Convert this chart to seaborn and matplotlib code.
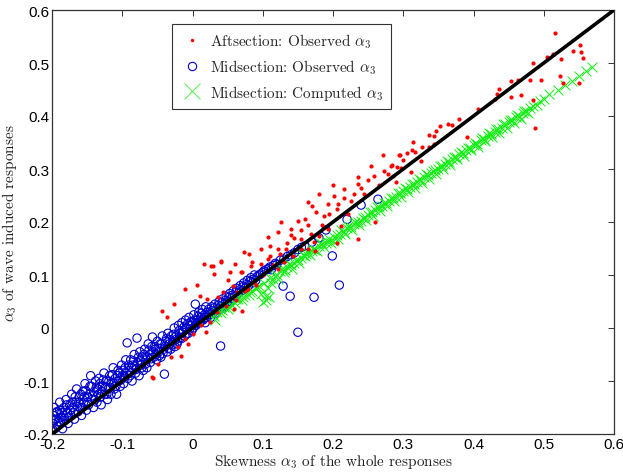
import matplotlib
matplotlib.use("Agg")
import matplotlib.pyplot as plt
from matplotlib.lines import Line2D
import seaborn as sns
import pandas as pd

# ---------------- data ----------------
# Midsection: observed alpha_3
blue_x = [-0.200,-0.199,-0.198,-0.197,-0.196,-0.195,-0.193,-0.192,-0.190,-0.189,-0.188,-0.186,-0.185,-0.183,-0.182,-0.180,
          -0.178,-0.177,-0.175,-0.173,-0.172,-0.170,-0.168,-0.166,-0.165,-0.163,-0.161,-0.160,-0.158,-0.156,-0.155,-0.153,
          -0.151,-0.150,-0.148,-0.146,-0.145,-0.143,-0.141,-0.140,-0.138,-0.136,-0.135,-0.133,-0.131,-0.130,-0.128,-0.126,
          -0.125,-0.123,-0.121,-0.120,-0.118,-0.116,-0.115,-0.113,-0.111,-0.110,-0.108,-0.106,-0.105,-0.103,-0.101,-0.100,
          -0.098,-0.096,-0.095,-0.093,-0.092,-0.090,-0.088,-0.086,-0.085,-0.083,-0.081,-0.079,-0.078,-0.076,-0.075,-0.073,
          -0.071,-0.070,-0.068,-0.066,-0.065,-0.063,-0.061,-0.060,-0.058,-0.057,-0.055,-0.053,-0.051,-0.050,-0.048,-0.046,
          -0.045,-0.043,-0.041,-0.040,-0.038,-0.036,-0.035,-0.033,-0.031,-0.030,-0.028,-0.026,-0.025,-0.023,-0.021,-0.020,
          -0.018,-0.016,-0.015,-0.013,-0.011,-0.010,-0.008,-0.006,-0.005,-0.003,-0.001,0.000,0.002,0.004,0.005,0.007,
          0.009,0.010,0.012,0.014,0.015,0.017,0.019,0.020,0.022,0.025,0.027,0.030,0.032,0.035,0.038,0.040,0.040,0.043,
          0.045,0.048,0.050,0.053,0.055,0.058,0.060,0.063,0.065,0.068,0.070,0.073,0.075,0.078,0.080,0.083,0.085,0.088,
          0.090,0.095,0.100,0.105,0.110,0.115,0.120,0.125,0.129,0.130,0.139,0.140,0.150,0.150,0.160,0.173,0.180,0.199,
          0.209,0.220,0.264,
          -0.199,-0.197,-0.194,-0.191,-0.189,-0.187,-0.184,-0.181,-0.179,-0.176,-0.174,-0.171,-0.169,-0.167,-0.164,-0.162,
          -0.159,-0.157,-0.154,-0.152,-0.149,-0.147,-0.144,-0.142,-0.139,-0.137,-0.134,-0.132,-0.129,-0.127,-0.124,-0.122,
          -0.119,-0.117,-0.114,-0.112,-0.109,-0.107,-0.104,-0.102,-0.099,-0.097,-0.094,-0.091,-0.089,-0.087,-0.084,-0.082,
          -0.080,-0.077,-0.074,-0.072,-0.069,-0.067,-0.064,-0.062,-0.059,-0.056,-0.054,-0.052,-0.049,-0.047,-0.044,-0.042,
          -0.039,-0.037,-0.034,-0.032,-0.029,-0.027,-0.024,-0.022,-0.019,-0.017,-0.014,-0.012,-0.009,-0.007,-0.004,-0.002,
          0.001,0.003,0.006,0.008,0.011,0.013,0.016,0.018,0.021,0.023,0.026,0.028,0.031,0.033,0.036,0.039,
          0.042,0.044,0.047,0.049,0.052,0.054,0.057,0.062,0.067,0.072,0.077,0.082,0.087,0.092,0.097,0.102,
          0.108,0.112,0.118,0.135,0.145,0.155,0.170,0.190,0.240]
blue_y = [-0.195,-0.180,-0.165,-0.150,-0.190,-0.172,-0.158,-0.185,-0.170,-0.140,-0.178,-0.160,-0.190,-0.150,-0.170,-0.135,
          -0.160,-0.180,-0.145,-0.165,-0.125,-0.150,-0.172,-0.140,-0.115,-0.158,-0.130,-0.150,-0.165,-0.120,-0.140,-0.105,
          -0.155,-0.130,-0.145,-0.110,-0.090,-0.135,-0.150,-0.120,-0.100,-0.140,-0.115,-0.095,-0.130,-0.145,-0.110,-0.085,
          -0.125,-0.100,-0.135,-0.115,-0.090,-0.125,-0.105,-0.075,-0.115,-0.095,-0.125,-0.080,-0.100,-0.110,-0.070,-0.090,
          -0.105,-0.075,-0.060,-0.028,-0.095,-0.080,-0.060,-0.100,-0.070,-0.050,-0.085,-0.019,-0.065,-0.090,-0.045,-0.070,
          -0.055,-0.080,-0.040,-0.060,-0.075,-0.030,-0.050,-0.065,-0.035,-0.017,-0.055,-0.040,-0.060,-0.025,-0.045,-0.030,
          -0.055,-0.015,-0.040,-0.087,-0.025,-0.045,-0.010,-0.030,-0.040,-0.015,-0.025,0.000,-0.035,-0.015,-0.025,0.005,
          -0.010,-0.020,0.010,-0.005,-0.015,0.015,0.000,-0.010,0.020,0.005,-0.005,0.010,0.025,0.045,0.005,0.015,
          0.030,0.010,0.020,0.035,0.015,0.025,0.040,0.020,0.030,0.025,0.040,0.030,0.045,0.035,0.050,-0.034,0.040,0.055,
          0.045,0.060,0.050,0.065,0.055,0.070,0.060,0.075,0.065,0.080,0.070,0.085,0.075,0.090,0.080,0.095,0.085,0.100,
          0.090,0.100,0.105,0.110,0.115,0.118,0.120,0.128,0.079,0.130,0.060,0.138,-0.008,0.148,0.155,0.058,0.170,0.136,
          0.081,0.205,0.243,
          -0.192,-0.175,-0.160,-0.177,-0.155,-0.168,-0.175,-0.155,-0.145,-0.168,-0.155,-0.140,-0.160,-0.130,-0.148,-0.140,
          -0.125,-0.150,-0.130,-0.118,-0.140,-0.125,-0.110,-0.128,-0.135,-0.112,-0.125,-0.105,-0.120,-0.098,-0.112,-0.125,
          -0.100,-0.112,-0.088,-0.105,-0.110,-0.090,-0.085,-0.098,-0.080,-0.092,-0.085,-0.070,-0.090,-0.075,-0.062,-0.072,
          -0.078,-0.055,-0.062,-0.075,-0.050,-0.068,-0.055,-0.042,-0.058,-0.045,-0.035,-0.050,-0.038,-0.052,-0.030,-0.048,
          -0.035,-0.020,-0.038,-0.022,-0.032,-0.012,-0.022,-0.030,-0.005,-0.018,-0.008,0.002,-0.012,0.008,-0.002,0.012,
          0.000,0.015,0.008,0.022,0.012,0.028,0.018,0.010,0.025,0.035,0.020,0.032,0.038,0.028,0.042,0.035,
          0.048,0.040,0.052,0.045,0.058,0.050,0.062,0.068,0.072,0.078,0.082,0.088,0.092,0.097,0.102,0.108,
          0.112,0.110,0.122,0.135,0.142,0.152,0.162,0.185,0.232]

# Aftsection: observed alpha_3
red_x = [-0.057,-0.056,-0.049,-0.043,-0.036,-0.031,-0.027,-0.017,-0.011,-0.007,0.006,0.011,0.016,0.019,0.021,0.026,
         0.029,0.030,0.036,0.040,0.040,0.044,0.054,0.057,0.059,0.059,0.061,0.064,0.069,0.071,0.071,0.073,0.079,0.080,
         0.083,0.087,0.097,0.097,0.107,0.107,0.111,0.121,0.121,0.121,0.126,0.130,0.133,0.140,0.143,0.150,0.154,0.154,
         0.164,0.164,0.169,0.173,0.175,0.176,0.180,0.180,0.187,0.193,0.193,0.201,0.207,0.211,0.221,0.230,0.236,0.236,
         0.244,0.254,0.259,0.260,0.271,0.273,0.279,0.283,0.284,0.286,0.291,0.294,0.296,0.297,0.300,0.306,0.311,0.313,
         0.314,0.317,0.326,0.336,0.337,0.344,0.344,0.346,0.353,0.363,0.370,0.380,0.391,0.407,0.431,0.434,0.436,0.453,
         0.454,0.464,0.467,0.480,0.484,0.484,0.487,0.496,0.504,0.513,0.516,0.523,0.524,0.527,0.541,0.550,0.551,0.553,
         0.556,
         -0.020,-0.010,0.000,0.012,0.025,0.035,0.048,0.062,0.075,0.090,0.100,0.115,0.125,0.135,0.145,0.155,
         0.165,0.185,0.195,0.205,0.215,0.225,0.240,0.250,0.265,0.050,0.085,0.110,0.140,0.160,0.170,0.200,
         0.215,0.235,0.325,0.290,0.205]
red_y = [-0.093,-0.094,-0.068,0.032,0.021,-0.055,0.045,-0.053,0.074,-0.030,0.081,0.060,0.121,-0.008,0.055,0.117,
         0.117,0.102,0.058,0.124,0.126,0.068,0.106,0.079,0.036,0.060,0.121,0.068,0.106,0.032,0.106,0.143,0.074,0.140,
         0.117,0.087,0.149,0.121,0.172,0.130,0.155,0.181,0.111,0.149,0.200,0.124,0.149,0.187,0.136,0.202,0.168,0.149,
         0.238,0.149,0.177,0.162,0.145,0.219,0.253,0.174,0.211,0.234,0.187,0.249,0.234,0.192,0.215,0.253,0.272,0.168,
         0.253,0.306,0.287,0.200,0.326,0.296,0.291,0.306,0.308,0.287,0.304,0.326,0.326,0.302,0.317,0.330,0.294,0.336,
         0.351,0.332,0.342,0.342,0.364,0.362,0.347,0.372,0.381,0.385,0.383,0.394,0.360,0.413,0.432,0.442,0.451,0.436,
         0.466,0.468,0.440,0.468,0.500,0.430,0.377,0.468,0.511,0.517,0.557,0.475,0.508,0.462,0.523,0.462,0.534,0.521,
         0.509,
         -0.035,-0.020,-0.012,0.005,0.012,0.030,0.042,0.052,0.070,0.082,0.100,0.118,0.140,0.160,0.170,0.185,
         0.195,0.195,0.215,0.225,0.245,0.240,0.265,0.280,0.270,0.090,0.125,0.135,0.175,0.205,0.230,0.270,
         0.262,0.285,0.315,0.275,0.160]

# Midsection: computed alpha_3
green_x = [0.030,0.035,0.040,0.045,0.050,0.055,0.060,0.065,0.070,0.075,0.080,0.085,0.090,0.095,0.100,0.102,0.105,0.109,
           0.110,0.115,0.120,0.125,0.130,0.135,0.140,0.145,0.150,0.155,0.160,0.165,0.170,0.175,0.180,0.185,0.190,0.195,
           0.200,0.205,0.210,0.215,0.220,0.225,0.230,0.235,0.240,0.245,0.250,0.255,0.260,0.265,0.270,0.275,0.280,0.285,
           0.290,0.295,0.300,0.305,0.310,0.315,0.320,0.325,0.330,0.335,0.340,0.345,0.350,0.355,0.360,0.365,0.370,0.375,
           0.380,0.385,0.390,0.395,0.400,0.405,0.410,0.415,0.420,0.425,0.430,0.435,0.440,0.445,0.450,0.455,0.460,0.465,
           0.470,0.475,0.480,0.490,0.500,0.507,0.520,0.530,0.540,0.550,0.560,0.569,
           0.032,0.042,0.052,0.062,0.072,0.082,0.092,0.097,0.104,0.107,0.112,0.117,0.122,0.127,0.132,0.137,
           0.142,0.147,0.152,0.157,0.162,0.167,0.172,0.177,0.182,0.187,0.192,0.197,0.202,0.207,0.212,0.217,
           0.222,0.227,0.232,0.237,0.242,0.247,0.252,0.257,0.262,0.267,0.272,0.277,0.282,0.287,0.292,0.297,
           0.302,0.307,0.312,0.317,0.322,0.327,0.332,0.337,0.342,0.347,0.352,0.357,0.362,0.367,0.372,0.377,
           0.382,0.387,0.392,0.397,0.402,0.407,0.412,0.417,0.422,0.427,0.432,0.437,0.442,0.447,0.452,0.457,
           0.462,0.467,0.472,0.477,0.485,0.495]
green_y = [0.022,0.030,0.028,0.040,0.035,0.045,0.048,0.055,0.052,0.063,0.062,0.070,0.075,0.080,0.050,0.085,0.060,0.058,
           0.095,0.092,0.100,0.108,0.105,0.115,0.118,0.122,0.128,0.133,0.135,0.142,0.145,0.148,0.155,0.158,0.160,0.168,
           0.165,0.175,0.178,0.182,0.188,0.190,0.196,0.200,0.202,0.210,0.213,0.218,0.222,0.228,0.230,0.236,0.240,0.245,
           0.248,0.255,0.258,0.262,0.266,0.272,0.275,0.280,0.285,0.288,0.292,0.298,0.300,0.306,0.310,0.313,0.318,0.322,
           0.328,0.330,0.335,0.340,0.345,0.348,0.354,0.357,0.362,0.366,0.370,0.375,0.378,0.384,0.388,0.392,0.398,0.400,
           0.406,0.410,0.415,0.420,0.432,0.442,0.450,0.458,0.466,0.475,0.485,0.492,
           0.015,0.034,0.040,0.055,0.058,0.068,0.078,0.065,0.052,0.075,0.085,0.098,0.092,0.112,0.110,0.120,
           0.112,0.128,0.122,0.138,0.140,0.137,0.150,0.145,0.160,0.152,0.165,0.160,0.172,0.168,0.185,0.178,
           0.192,0.185,0.200,0.195,0.208,0.203,0.218,0.212,0.228,0.220,0.236,0.230,0.246,0.240,0.255,0.248,
           0.265,0.256,0.272,0.265,0.282,0.274,0.290,0.282,0.297,0.290,0.305,0.300,0.315,0.308,0.323,0.318,
           0.332,0.325,0.340,0.335,0.350,0.342,0.358,0.352,0.368,0.360,0.375,0.368,0.384,0.378,0.392,0.386,
           0.402,0.395,0.410,0.405,0.418,0.428]

# identity reference line
line_x = [-0.2, 0.6]
line_y = [-0.2, 0.6]

x_ticks = [-0.2, -0.1, 0, 0.1, 0.2, 0.3, 0.4, 0.5, 0.6]
y_ticks = [-0.2, -0.1, 0, 0.1, 0.2, 0.3, 0.4, 0.5, 0.6]
x_ticklabels = ["-0.2", "-0.1", "0", "0.1", "0.2", "0.3", "0.4", "0.5", "0.6"]
y_ticklabels = ["-0.2", "-0.1", "0", "0.1", "0.2", "0.3", "0.4", "0.5", "0.6"]

labels = [r"Aftsection: Observed $\alpha_3$",
          r"Midsection: Observed $\alpha_3$",
          r"Midsection: Computed $\alpha_3$"]
x_label = r"Skewness $\alpha_3$ of the whole responses"
y_label = r"$\alpha_3$ of wave induced responses"

# ---------------- drawing ----------------
sns.set_theme(style="white")
plt.rcParams["mathtext.fontset"] = "cm"
plt.rcParams["axes.unicode_minus"] = False
plt.rcParams["xtick.direction"] = "in"
plt.rcParams["ytick.direction"] = "in"

fig = plt.figure(figsize=(6.23, 4.77), dpi=100)
ax = fig.add_axes([52/623, 42/477, 562/623, 424/477])

blue_df = pd.DataFrame({"x": blue_x, "y": blue_y})
red_df = pd.DataFrame({"x": red_x, "y": red_y})
green_df = pd.DataFrame({"x": green_x, "y": green_y})
line_df = pd.DataFrame({"x": line_x, "y": line_y})

blue_c = "#0000CC"
red_c = "#FF0000"
green_c = "#11EE11"

sns.scatterplot(data=blue_df, x="x", y="y", ax=ax, marker="o", s=36,
                facecolor="none", edgecolor=blue_c, linewidth=0.8, zorder=2, legend=False)
sns.scatterplot(data=green_df, x="x", y="y", ax=ax, marker="x", s=50,
                color=green_c, linewidth=0.7, zorder=3, legend=False)
sns.scatterplot(data=red_df, x="x", y="y", ax=ax, marker="o", s=9,
                color=red_c, linewidth=0, zorder=4, legend=False)
sns.lineplot(data=line_df, x="x", y="y", ax=ax, color="black", linewidth=2.6, zorder=5)

ax.set_xlim(-0.2, 0.6)
ax.set_ylim(-0.2, 0.6)
ax.set_xticks(x_ticks)
ax.set_yticks(y_ticks)
tick_font = dict(family="Liberation Sans", size=11)
ax.set_xticklabels(x_ticklabels, fontdict=tick_font)
ax.set_yticklabels(y_ticklabels, fontdict=tick_font)
ax.tick_params(axis="both", which="both", direction="in", length=4, width=0.7,
               top=True, right=True, color="#333333", pad=2, labelcolor="black")

for sp in ax.spines.values():
    sp.set_color("#333333")
    sp.set_linewidth(0.9)

ax.set_xlabel(x_label, family="cmr10", fontsize=11, color="#222222", labelpad=1)
ax.set_ylabel(y_label, family="cmr10", fontsize=11, color="#222222", labelpad=3)

handles = [
    Line2D([], [], linestyle="none", marker="o", markersize=2.5, color=red_c, markeredgewidth=0),
    Line2D([], [], linestyle="none", marker="o", markersize=6, markerfacecolor="none",
           markeredgecolor=blue_c, markeredgewidth=0.8),
    Line2D([], [], linestyle="none", marker="x", markersize=11, color="#66EE66", markeredgewidth=0.8),
]
leg = ax.legend(handles, labels, loc="upper left", bbox_to_anchor=(0.20, 0.985),
                prop={"family": "cmr10", "size": 11}, frameon=True, fancybox=False,
                framealpha=1, edgecolor="#333333", borderpad=0.5, handletextpad=0.4,
                labelspacing=0.45, handlelength=1.6)
leg.get_frame().set_linewidth(0.8)

fig.savefig("out.png", dpi=100)
